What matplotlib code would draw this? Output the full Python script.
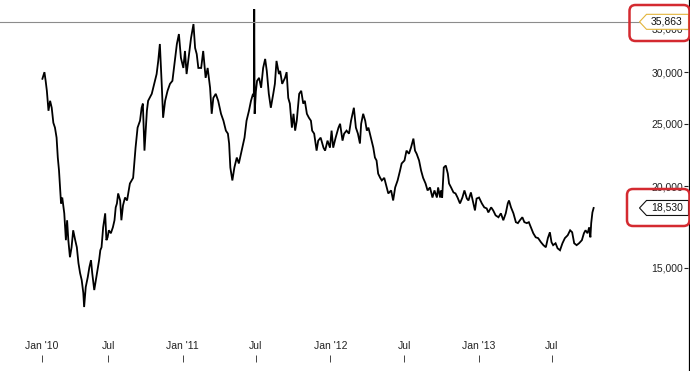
import matplotlib
matplotlib.use('Agg')
import matplotlib.pyplot as plt
from matplotlib.patches import Polygon, FancyBboxPatch
from matplotlib.lines import Line2D
from matplotlib.transforms import IdentityTransform
from matplotlib.ticker import FixedLocator, NullLocator, FuncFormatter
import pandas as pd

plt.rcParams['font.family'] = ['Liberation Sans', 'DejaVu Sans']

# ---------------- data ----------------
start_date = '2010-01-01'
day_offset = [
    19, 24, 27, 30, 34, 38, 42, 46, 50, 54, 57, 60, 63, 65, 68, 73, 77, 80, 83, 87,
    91, 95, 100, 104, 108, 112, 116, 120, 122, 126, 131, 135, 139, 142, 147, 151, 156, 159, 162, 165,
    169, 174, 177, 180, 183, 188, 193, 197, 200, 203, 206,
    211, 214, 218, 223, 228, 235, 243, 249, 254, 260, 264, 267, 271, 277, 280, 289, 295, 301, 305, 309,
    314, 317, 322, 328, 334, 340, 345, 351, 356, 361, 367, 371, 375, 381, 386, 392, 396, 400, 404,
    411, 416, 422, 427, 433, 437, 441, 447, 453, 460, 466, 472, 477, 480, 483, 488, 493, 499, 504, 511,
    518, 523, 529, 534, 539, 541, 542, 543, 546, 549, 554, 559, 564, 569, 573, 578, 583, 589, 593, 597, 603,
    606, 611, 618, 622, 626, 630, 635, 639, 643, 647, 653, 658, 663, 667, 672, 677, 682, 685, 690, 696,
    700, 706, 713, 717, 723, 729, 733, 737, 743, 750, 754, 760, 764, 770, 776, 781, 788, 793, 798, 803,
    806, 811, 816, 820, 824, 830, 836, 840, 844, 848, 853, 857, 863, 869, 873, 880, 885, 890, 896, 902,
    906, 913, 918, 924, 929, 935, 939, 943, 949, 954, 959, 965, 970, 976, 982, 987, 993, 996, 1001,
    1003, 1006, 1010, 1015, 1020, 1023, 1028, 1034, 1039, 1044, 1050, 1056, 1061, 1067, 1071, 1077, 1083, 1087, 1091, 1097,
    1104, 1110, 1116, 1120, 1127, 1132, 1138, 1145, 1151, 1157, 1163, 1168, 1171, 1176, 1182, 1188, 1193, 1198,
    1204, 1209, 1215, 1220, 1225, 1231, 1237, 1243, 1250, 1256, 1262, 1267, 1272, 1276, 1280, 1286, 1291, 1297, 1303, 1309,
    1316, 1322, 1327, 1332, 1338, 1344, 1351, 1356, 1360, 1365, 1369, 1372, 1374, 1377, 1380,
]
values = [
    29300, 30000, 29090, 28080, 26160, 27100, 26440, 25070, 24640, 23780, 22160, 21160, 19720, 18830, 19230, 18180, 16530, 17740, 16530, 15560,
    16120, 17120, 16530, 16120, 15240, 14710, 14350, 13710, 13040, 14000, 14500, 15020, 15400, 14710, 13850, 14350, 15020, 15400, 15950, 16120,
    17300, 18180, 16530, 16700, 17120, 16940, 17300, 17740, 18570, 18830, 19510,
    19030, 17740, 18700, 19230, 19030, 20210, 20620, 22950, 24640, 25250, 26440, 26830, 22710, 26160, 27100, 27780, 28780, 29800, 31220, 33150,
    28380, 25520, 27100, 28080, 28780, 29090, 30890, 33150, 34340, 31560, 30450, 32340, 29800, 31990, 33860, 35580, 32690, 31990, 30450,
    30450, 32340, 29400, 30450, 28380, 25880, 27380, 27780, 27100, 25880, 25250, 24380, 24120, 23290, 21390, 20430, 21390, 22160, 21700, 22710,
    23780, 25250, 26160, 27100, 27780, 27500, 37500, 25880, 28000, 29090, 29400, 28380, 30450, 31440, 30130, 27780, 26440, 27780, 28780, 31220, 29800,
    30130, 28780, 29400, 30000, 27380, 26830, 24640, 25880, 24380, 25250, 27780, 28080, 26830, 27100, 25880, 25520, 25250, 24380, 24120, 22710,
    23530, 23780, 22950, 22710, 23530, 22950, 24380, 22950, 23780, 24640, 24980, 23530, 24120, 24380, 24120, 25250, 26440, 24640, 24120, 23290,
    24980, 25880, 25250, 24380, 24640, 23780, 22950, 22160, 21930, 20930, 20620, 20430, 20620, 19930, 19510, 19720, 19030, 19930, 20430, 21160,
    21700, 21930, 22710, 22460, 22950, 23700, 22710, 22460, 21930, 21160, 20620, 20210, 19720, 19930, 19230, 19720, 19230, 19930, 19230,
    19720, 19230, 21390, 21540, 20930, 20210, 19930, 19580, 19510, 19230, 18830, 19230, 19720, 19160, 19030, 19580, 18830, 18370, 19160, 19230,
    18830, 18570, 18500, 18240, 18570, 18370, 18050, 17930, 18180, 17740, 18180, 18830, 19030, 18570, 18180, 17620, 17560, 17740,
    17930, 17620, 17560, 17620, 17300, 16940, 16700, 16650, 16410, 16240, 16120, 16650, 17000, 16410, 16240, 16350, 16060, 15950, 16350, 16650,
    16820, 17120, 17000, 16350, 16240, 16350, 16530, 16940, 17120, 16940, 17300, 16700, 17560, 18240, 18530,
]
tick_dates = ['2010-01-19', '2010-07-01', '2011-01-01', '2011-07-01',
              '2012-01-01', '2012-07-01', '2013-01-01', '2013-07-01']
tick_labels = ["Jan '10", "Jul", "Jan '11", "Jul", "Jan '12", "Jul", "Jan '13", "Jul"]
y_ticks = [15000, 20000, 25000, 30000, 35000]
ref_level = 35863
last_value = 18530

# ---------------- figure ----------------
W, H = 690, 371
fig = plt.figure(figsize=(W / 100, H / 100), dpi=100)
fig.patch.set_facecolor('white')
ax = fig.add_axes([0, 9 / H, 688 / W, 362 / H])

start = pd.Timestamp(start_date)
dates = start + pd.to_timedelta(day_offset, unit='D')
ax.plot(dates, values, color='black', lw=1.3, solid_joinstyle='miter')

ax.set_yscale('log')
ax.set_ylim(10730, 38750)
ax.set_xlim(start + pd.Timedelta(days=-85.7), start + pd.Timedelta(days=1613))

# y axis on the right, labels inside
ax.yaxis.set_major_locator(FixedLocator(y_ticks))
ax.yaxis.set_minor_locator(NullLocator())
ax.yaxis.set_major_formatter(FuncFormatter(lambda v, p: f'{v:,.0f}'))
ax.yaxis.tick_right()
ax.tick_params(axis='y', which='major', direction='in', length=3, width=0.8,
               pad=-3.5, labelsize=7.5, labelcolor='#222222', color='#222222')
for t in ax.yaxis.get_major_ticks():
    t.label2.set_horizontalalignment('right')

# x axis: ticks below labels
ax.set_xticks(pd.to_datetime(tick_dates))
ax.set_xticklabels(tick_labels)
ax.xaxis.set_minor_locator(NullLocator())
ax.tick_params(axis='x', direction='in', length=5, width=0.7, pad=-15,
               labelsize=7.5, labelcolor='#222222', color='#444444')

for s in ['left', 'top', 'bottom', 'right']:
    ax.spines[s].set_visible(False)
fig.add_artist(Line2D([688.5 / W, 688.5 / W], [0, 1], color='black', lw=0.9,
                      transform=fig.transFigure))

# reference level line
ax.axhline(ref_level, xmin=0, xmax=639.5 / 688, color='#8c8c8c', lw=0.8)

ident = IdentityTransform()


def tag(value, edge):
    yc = ax.transData.transform((0, value))[1]
    pts = [(639.5, yc), (646.5, yc + 7.5), (688.5, yc + 7.5),
           (688.5, yc - 7.5), (646.5, yc - 7.5)]
    fig.add_artist(Polygon(pts, closed=True, facecolor='white', edgecolor=edge,
                           lw=0.8, transform=ident, zorder=5))
    fig.text(667, yc, f'{value:,.0f}', transform=ident, ha='center', va='center',
             fontsize=7.5, color='#111111', zorder=6)
    return yc


tag(ref_level, '#e3b53c')
tag(last_value, '#111111')

# red highlight boxes
for (x0, top, bottom) in [(629.5, 5, 41), (627, 189, 226)]:
    fig.add_artist(FancyBboxPatch((x0, H - bottom), 689.5 - x0, bottom - top,
                                  boxstyle='round,pad=0,rounding_size=6',
                                  facecolor='none', edgecolor='#d42a30', lw=1.8,
                                  transform=ident, zorder=7, clip_on=False))

fig.savefig('out.png', dpi=100)
